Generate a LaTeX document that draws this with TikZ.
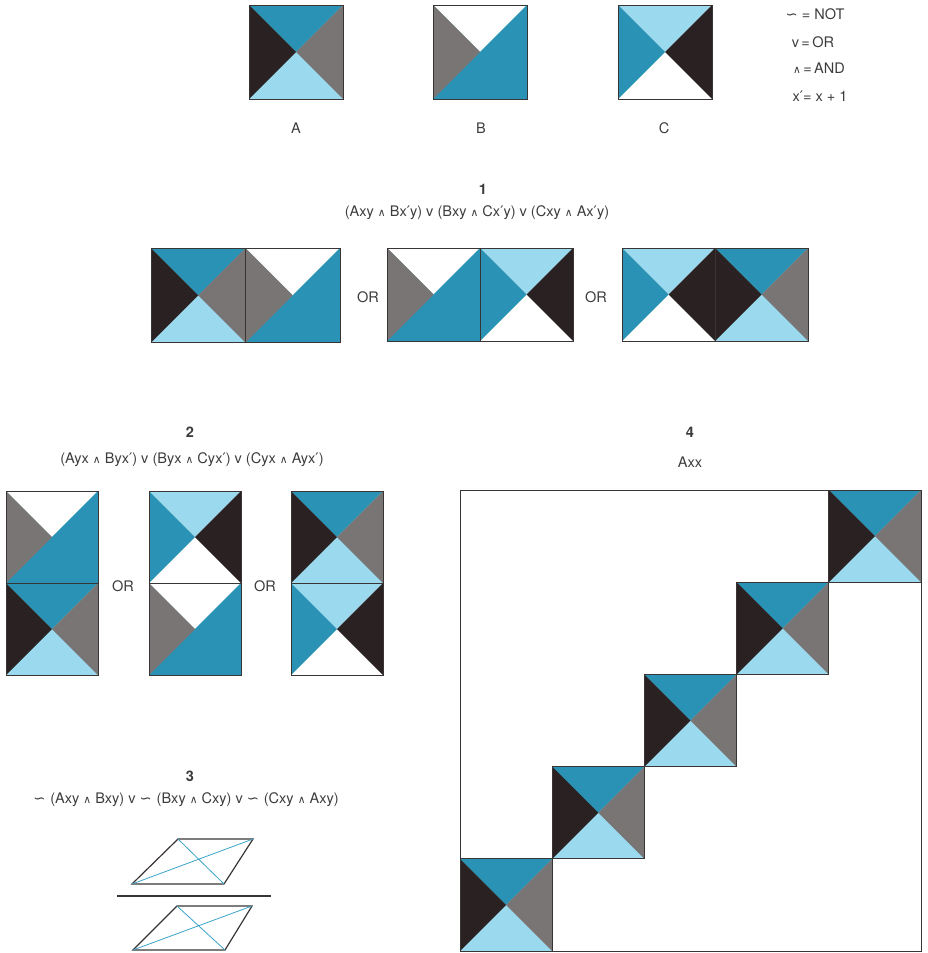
\documentclass[tikz,border=0pt]{standalone}
\usepackage{fontspec}
\setmainfont{TeX Gyre Heros}
\newfontfamily\symfont{DejaVu Sans}
\usetikzlibrary{positioning}
\definecolor{deepblue}{HTML}{2A93B5}
\definecolor{paleblue}{HTML}{9BDAEE}
\definecolor{slate}{HTML}{7A7575}
\definecolor{ink}{HTML}{2A2222}
\definecolor{textgray}{HTML}{3C3C3C}
\definecolor{edgegray}{HTML}{3A3535}
\definecolor{hatch}{HTML}{3AA3C8}

\newcommand{\andsym}{{\symfont\footnotesize ∧}}
\newcommand{\notsym}{{\symfont ∽}}
\newcommand{\pr}{{\symfont ′}}

% one square tile: x, y (top-left), size, then top/right/bottom/left colours
\newcommand{\quadtile}[7]{%
  \begin{scope}[shift={(#1,#2)}, scale=#3]
    \fill[#6] (0,0) rectangle (1,1);
    \fill[#4] (0,0) -- (1,0) -- (.5,.5) -- cycle;
    \fill[#5] (1,0) -- (1,1) -- (.5,.5) -- cycle;
    \fill[#7] (0,1) -- (0,0) -- (.5,.5) -- cycle;
    \draw[frame] (0,0) rectangle (1,1);
  \end{scope}}
\newcommand{\tileA}[3]{\quadtile{#1}{#2}{#3}{deepblue}{slate}{paleblue}{ink}}
\newcommand{\tileB}[3]{\quadtile{#1}{#2}{#3}{white}{deepblue}{deepblue}{slate}}
\newcommand{\tileC}[3]{\quadtile{#1}{#2}{#3}{paleblue}{ink}{white}{deepblue}}

\begin{document}
\begin{tikzpicture}[x=0.75pt, y=-0.75pt,
  txt/.style={text=textgray, inner sep=0pt, font=\fontsize{10.9}{13}\selectfont},
  numlbl/.style={txt, font=\fontsize{10.9}{13}\selectfont\bfseries},
  frame/.style={draw=edgegray, line width=0.7pt},
  diag/.style={draw=hatch, line width=0.6pt}
]
  \useasboundingbox (0,0) rectangle (928,953);

  % the three tiles and the legend
  \tileA{249}{5}{94}
  \tileB{433}{5}{94}
  \tileC{618}{5}{94}
  \node[txt] (lblA) at (296,128) {A};
  \node[txt] (lblB) at (481,128) {B};
  \node[txt] (lblC) at (664,128) {C};

  \node[txt] (legnot) at (815,14) {\notsym\ = NOT};
  \node[txt] (legor) at (813,42) {v\,=\,OR};
  \node[txt] (legand) at (819,68) {\andsym\,=\,AND};
  \node[txt] (legnext) at (820,96) {x\pr= x + 1};

  % 1
  \node[numlbl] (num1) at (483,189) {1};
  \node[txt] (form1) at (477,213) {(Axy \andsym\ Bx\pr y) v (Bxy \andsym\ Cx\pr y) v (Cxy \andsym\ Ax\pr y)};
  \tileA{151}{248}{94.5} \tileB{245.5}{248}{94.5}
  \node[txt] (or1a) at (368,297) {OR};
  \tileB{387}{248}{93} \tileC{480}{248}{93}
  \node[txt] (or1b) at (596,297) {OR};
  \tileC{622}{248}{93} \tileA{715}{248}{93}

  % 2
  \node[numlbl] (num2) at (190,432) {2};
  \node[txt] (form2) at (192,460) {(Ayx \andsym\ Byx\pr) v (Byx \andsym\ Cyx\pr) v (Cyx \andsym\ Ayx\pr)};
  \tileB{6}{491}{92} \tileA{6}{583}{92}
  \node[txt] (or2a) at (123,586) {OR};
  \tileC{149}{491}{92} \tileB{149}{583}{92}
  \node[txt] (or2b) at (265,586) {OR};
  \tileA{291}{491}{92} \tileC{291}{583}{92}

  % 3
  \node[numlbl] (num3) at (190,776) {3};
  \node[txt] (form3) at (186,800) {\notsym\,\,(Axy \andsym\ Bxy) v \notsym\,\,(Bxy \andsym\ Cxy) v \notsym\,\,(Cxy \andsym\ Axy)};
  \draw[frame, line width=0.9pt] (178,839) -- (253,839) -- (224,884) -- (132,884) -- cycle;
  \draw[diag] (178,839) -- (224,884) (132,884) -- (253,839);
  \draw[edgegray, line width=1.1pt] (117,896) -- (271,896);
  \draw[frame, line width=0.9pt] (177,906) -- (252,906) -- (225,950) -- (133,950) -- cycle;
  \draw[diag] (177,906) -- (225,950) (133,950) -- (252,906);

  % 4
  \node[numlbl] (num4) at (690,432) {4};
  \node[txt] (form4) at (690,462) {Axx};
  \draw[frame] (460,490) rectangle (921,951);
  \foreach \k in {0,...,4} {\tileA{460+92.2*\k}{858.8-92.2*\k}{92.2}}
\end{tikzpicture}
\end{document}
